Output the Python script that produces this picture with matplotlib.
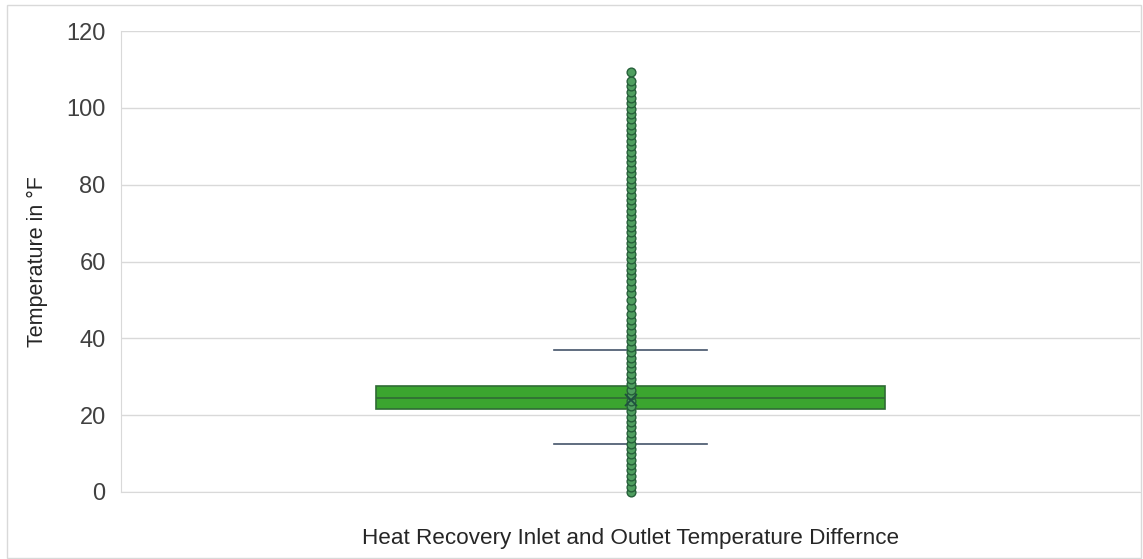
import matplotlib
matplotlib.use("Agg")
import matplotlib.pyplot as plt
from matplotlib.patches import Rectangle

# ---- data ----
category = "Heat Recovery Inlet and Outlet Temperature Differnce"
y_label = "Temperature in °F"
y_ticks = [0, 20, 40, 60, 80, 100, 120]

q1 = 21.6
median = 24.5
q3 = 27.6
whisker_low = 12.5
whisker_high = 37.0
mean_value = 24.0

points = [0, 1.4, 2.8, 4.2, 5.6, 7.0, 8.4, 9.8, 11.2, 12.6, 14.0, 15.4, 16.8,
          18.2, 19.6, 21.0, 22.4, 23.8, 25.2, 26.6, 28.0, 29.4, 30.8, 32.2,
          33.6, 35.0, 36.4, 37.8, 39.2, 40.6, 42.0, 43.4, 44.8, 46.4, 48.2,
          50.0, 51.8, 53.4, 55.0, 56.4, 57.8, 59.2, 60.6, 62.0, 63.4, 64.8,
          66.2, 67.6, 69.0, 70.4, 71.8, 73.2, 74.6, 76.0, 77.4, 78.8, 80.2,
          81.6, 83.0, 84.4, 85.8, 87.2, 88.6, 90.0, 91.4, 92.8, 94.2, 95.6,
          97.0, 98.4, 99.8, 101.2, 102.6, 104.0, 105.6, 107.0, 109.4]

plt.rcParams['font.family'] = ['Liberation Sans', 'DejaVu Sans']

fig = plt.figure(figsize=(11.43, 5.59), dpi=100)
ax = fig.add_axes([121/1143, 1-492/559, (1140-121)/1143, (492-31)/559])

# chart border
fig.patches.append(Rectangle((7/1143, 0.002), (1141-7)/1143, 1-5/559-0.002,
                             transform=fig.transFigure, fill=False,
                             edgecolor='#d9d9d9', linewidth=1))

stats = [dict(med=median, q1=q1, q3=q3, whislo=whisker_low, whishi=whisker_high,
              mean=mean_value, fliers=[], label=category)]
ax.bxp(stats, positions=[1], widths=0.5, capwidths=0.151, patch_artist=True,
       showmeans=False, showfliers=False,
       boxprops=dict(facecolor='#3ba52f', edgecolor='#2f6b35', linewidth=1.2),
       medianprops=dict(color='#2f6b35', linewidth=1.2),
       whiskerprops=dict(color='#44546a', linewidth=1.2),
       capprops=dict(color='#44546a', linewidth=1.2), zorder=2)

ax.plot([1]*len(points), points, linestyle='none', marker='o', markersize=6.3,
        markerfacecolor='#4f9e5f', markeredgecolor='#26603a', markeredgewidth=1.0,
        zorder=3, clip_on=False)
ax.plot([1], [mean_value], linestyle='none', marker='x', markersize=9,
        color='#1f4f40', markeredgewidth=1.3, zorder=4)

ax.set_xlim(0.5, 1.5)
ax.set_ylim(0, 120)
ax.set_yticks(y_ticks)
ax.set_yticklabels([str(t) for t in y_ticks], fontsize=17, color='#404040')
ax.tick_params(axis='y', length=0, pad=11)
ax.set_xticks([1])
ax.set_xticklabels([category], fontsize=16.2, color='#262626')
ax.tick_params(axis='x', length=0, pad=26)
ax.set_ylabel(y_label, fontsize=15.5, color='#262626', labelpad=13)

ax.grid(axis='y', color='#d9d9d9', linewidth=1)
ax.set_axisbelow(True)
for s in ['top', 'right']:
    ax.spines[s].set_visible(False)
ax.spines['left'].set_color('#d9d9d9')
ax.spines['bottom'].set_color('#d9d9d9')

fig.savefig('out.png', dpi=100)
